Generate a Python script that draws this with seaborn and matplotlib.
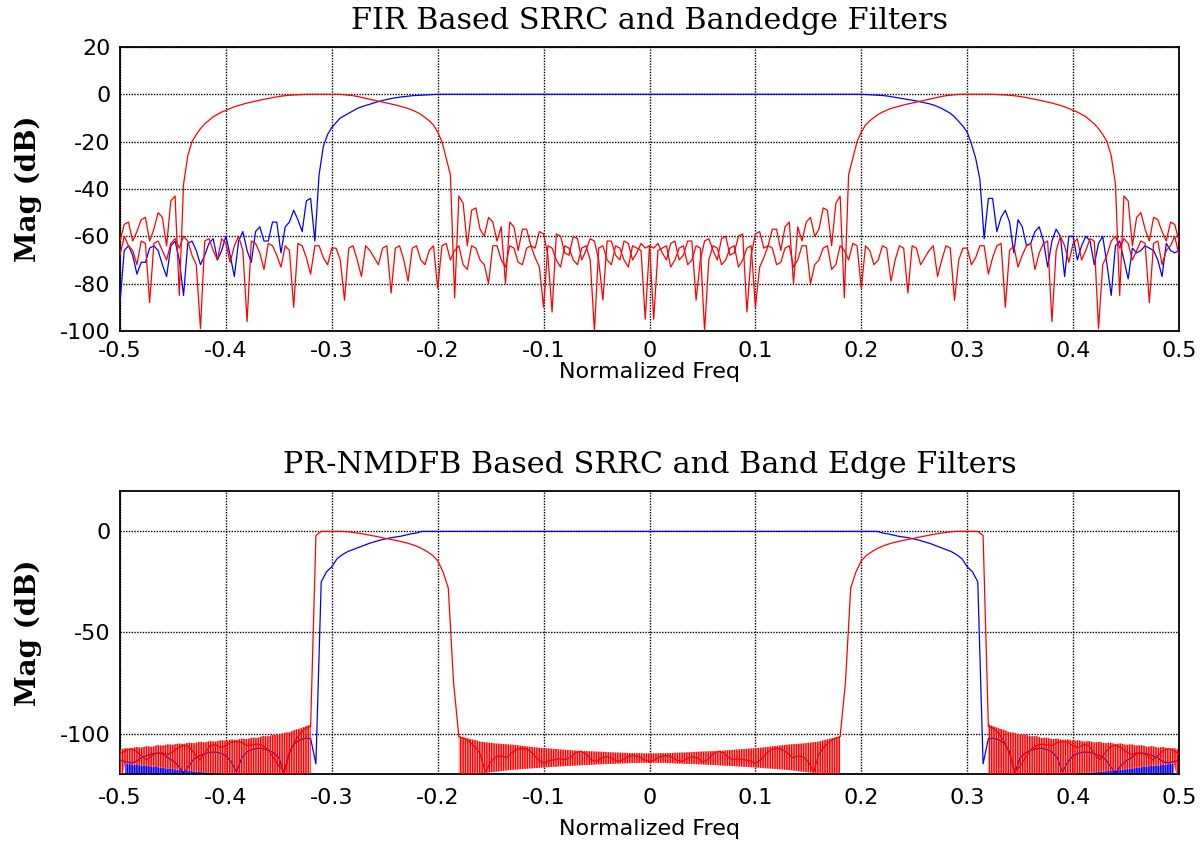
import numpy as np
import matplotlib
matplotlib.use("Agg")
import matplotlib.pyplot as plt
import seaborn as sns

nan = np.nan

# ============ top panel: FIR based SRRC and band-edge filters (freq step 0.004) ============
fir_freq = np.linspace(-0.5, 0.5, 251)

fir_srrc_left_db = [
    -88, -66, -64, -68, -76, -71, -71, -65, -64, -66,
    -72, -77, -64, -62, -70, -85, -63, -62, -66, -72,
    -68, -63, -61, -70, -66, -60, -68, -77, -62, -58,
    -66, -71, -58, -56, -62, -62, -54, -54, -67, -56,
    -54, -49, -53, -58, -45, -44, -62, -34, -22, -17,
    -14, -12, -10, -9, -8, -7, -6, -5.3, -4.7, -4.2,
    -3.6, -3.1, -2.6, -2.2, -1.8, -1.5, -1.2, -1.0, -0.8, -0.6,
    -0.5, -0.4, -0.3, -0.2, -0.1]
fir_srrc_pass_db = [0.0] * 101
fir_srrc_right_db = [
    -0.1, -0.2, -0.3, -0.4, -0.5, -0.7, -1.0, -1.3, -1.6, -1.9,
    -2.2, -2.5, -2.8, -3.2, -3.6, -4.0, -4.5, -5.2, -6.0, -7.0,
    -8.0, -9.5, -11.5, -13.5, -16, -21, -27, -36, -61, -44,
    -44, -58, -52, -49, -54, -67, -53, -56, -64, -63,
    -58, -56, -62, -73, -62, -57, -60, -77, -60, -60,
    -70, -64, -60, -62, -72, -63, -60, -72, -85, -64,
    -62, -70, -78, -65, -67, -66, -64, -65, -66, -70,
    -77, -63, -66, -67, -66]

fir_be_neg_db = [
    -62, -55, -54, -62, -58, -53, -52, -62, -57, -50,
    -52, -64, -45, -43, -85, -38, -26, -20, -17, -14.5,
    -12.5, -11, -9.5, -8.5, -7.5, -6.8, -6.0, -5.3, -4.7, -4.2,
    -3.7, -3.3, -2.9, -2.5, -2.1, -1.8, -1.4, -1.1, -0.8, -0.6,
    -0.4, -0.3, -0.2, -0.1, 0, 0, 0, 0, 0, 0,
    0, 0, 0, -0.2, -0.4, -0.6, -0.9, -1.3, -1.7, -2.1,
    -2.5, -2.9, -3.3, -3.7, -4.1, -4.5, -5.0, -5.5, -6.0, -6.7,
    -7.5, -8.5, -9.8, -11.2, -13, -16, -20, -27, -34, -86,
    -43, -46, -64, -49, -48, -57, -60, -52, -54, -62,
    -56, -80, -54, -56, -66, -57, -57, -64, -65, -58,
    -59, -68, -92, -59, -60, -67, -68, -60, -61, -70,
    -66, -61, -62, -70, -87, -62, -62, -68, -70, -62,
    -63, -70, -67, -63, -65, -64,
    -95, -66, -65, -64, -73, -70, -65, -64, -72, -70,
    -64, -65, -100, -70, -64, -65, -72, -70, -65, -64,
    -73, -70, -65, -64, -90, -73, -69, -64, -65, -72,
    -71, -65, -64, -73, -70, -64, -64, -80, -72, -70,
    -65, -64, -74, -72, -64, -66, -70, -63, -64, -82,
    -64, -66, -72, -70, -64, -65, -79, -70, -64, -65,
    -84, -64, -65, -72, -69, -66, -64, -77, -70, -64,
    -65, -87, -70, -65, -65, -72, -69, -64, -64, -76,
    -69, -64, -63, -90, -66, -64, -73, -68, -64, -63,
    -74, -67, -63, -62, -96, -66, -60, -64, -71, -63,
    -61, -70, -66, -61, -62, -99, -72, -68, -62, -60,
    -65, -61, -63, -70, -66, -62, -63, -88, -63, -62,
    -72, -66, -64, -60, -68]

fir_be_pos_db = [
    -68, -60, -64, -66, -72, -62, -63, -88, -63, -62,
    -66, -70, -63, -61, -65, -60, -62, -68, -72, -99,
    -62, -61, -66, -70, -61, -63, -71, -64, -60, -66,
    -96, -62, -63, -67, -74, -63, -64, -68, -73, -64,
    -66, -90, -63, -64, -69, -76, -64, -64, -69, -72,
    -65, -65, -70, -87, -65, -64, -70, -77, -64, -66,
    -69, -72, -65, -64, -84, -65, -64, -70, -79, -65,
    -64, -70, -72, -66, -64, -82, -64, -63, -70, -66,
    -64, -72, -74, -64, -65, -70, -72, -80, -64, -64,
    -70, -73, -64, -65, -71, -72, -65, -64, -69, -73,
    -90, -64, -65, -70, -73, -64, -65, -70, -72, -65,
    -64, -70, -100, -65, -64, -70, -72, -64, -65, -70,
    -73, -64, -65, -66, -95, -64,
    -65, -63, -67, -70, -63, -62, -70, -68, -62, -62,
    -87, -70, -62, -61, -66, -70, -61, -60, -68, -67,
    -60, -59, -92, -68, -59, -58, -65, -64, -57, -57,
    -66, -56, -54, -80, -56, -62, -54, -52, -60, -57,
    -48, -49, -64, -46, -43, -86, -34, -27, -20, -16,
    -13, -11.2, -9.8, -8.5, -7.5, -6.7, -6.0, -5.5, -5.0, -4.5,
    -4.1, -3.7, -3.3, -2.9, -2.5, -2.1, -1.7, -1.3, -0.9, -0.6,
    -0.4, -0.2, 0, 0, 0, 0, 0, 0, 0, 0,
    0, -0.1, -0.2, -0.3, -0.4, -0.6, -0.8, -1.1, -1.4, -1.8,
    -2.1, -2.5, -2.9, -3.3, -3.7, -4.2, -4.7, -5.3, -6.0, -6.8,
    -7.5, -8.5, -9.5, -11, -12.5, -14.5, -17, -20, -26, -38,
    -85, -43, -45, -64, -52, -50, -57, -62, -52, -53,
    -58, -62, -54, -55, -62]

# ============ bottom panel: PR-NMDFB based filters (freq step 0.005) ============
pr_freq = np.linspace(-0.5, 0.5, 201)
pr_srrc_stop_left_db = [
    -113, -114, -114.5, -114, -112, -111, -110, -109.7, -110, -112,
    -113.5, -116, -119.5, -116, -112.5, -111, -110, -109.3, -109.2, -109.7,
    -111, -114, -119, -112, -109, -107.8, -107.3, -107.5, -108.3, -109.5,
    -112, -119.5, -109, -104.8, -103.2, -102.3, -102.5]
pr_srrc_edge_left_db = [
    -115, -25, -20, -17.5, -13.5, -11.5, -10, -9, -8, -7, -6,
    -5.2, -4.4, -3.8, -3.2, -2.8, -2.4, -1.8, -1.2, -0.8]
pr_srrc_pass_db = [0.0] * 87
pr_srrc_edge_right_db = [
    -0.8, -1.2, -1.8, -2.4, -2.8, -3.2, -3.8, -4.4, -5.2, -6,
    -7, -8, -9, -10, -11.5, -13.5, -17.5, -20, -25, -115]
pr_srrc_stop_right_db = [
    -102.5, -102.3, -103.2, -104.8, -109, -119.5, -112, -109.5, -108.3, -107.5,
    -107.3, -107.8, -109, -112, -119, -114, -111, -109.7, -109.2, -109.3,
    -110, -111, -112.5, -116, -119.5, -116, -113.5, -112, -110, -109.7,
    -110, -111, -112, -114, -114.5, -114, -113]

pr_freq_left = np.linspace(-0.5, -0.32, 37)
pr_freq_mid = np.linspace(-0.18, 0.18, 73)
pr_freq_right = np.linspace(0.32, 0.5, 37)
pr_freq_lobe_neg = np.linspace(-0.32, -0.18, 29)
pr_freq_lobe_pos = np.linspace(0.18, 0.32, 29)

pr_be_lobe_neg_db = [
    -96.5, -2, 0, 0, 0, 0, 0, -0.2, -0.5, -0.9,
    -1.3, -1.8, -2.3, -2.8, -3.4, -3.9, -4.4, -5.0, -5.6, -6.4,
    -7.3, -8.5, -10, -11.8, -14.5, -20, -28, -75, -101.5]
pr_be_lobe_pos_db = [
    -101.5, -75, -28, -20, -14.5, -11.8, -10, -8.5, -7.3, -6.4,
    -5.6, -5.0, -4.4, -3.9, -3.4, -2.8, -2.3, -1.8, -1.3, -0.9,
    -0.5, -0.2, 0, 0, 0, 0, 0, -2, -96.5]

pr_be_trace_left_db = [
    -110, -108.5, -107.5, -108.5, -111, -113, -111, -109.7, -109.5, -110.5,
    -109, -107, -105.8, -106.5, -109.7, -113, -110, -106, -105.5, -107,
    -106, -104.2, -104, -104.5, -106, -105.6, -105.2, -106, -108, -112,
    -116, -119, -110, -104, -100, -97.5, -96.5]
pr_be_trace_right_db = [
    -96.5, -97.5, -100, -104, -110, -119, -116, -112, -108, -106,
    -105.2, -105.6, -106, -104.5, -104, -104.2, -106, -107, -105.5, -106,
    -110, -113, -109.7, -106.5, -105.8, -107, -109, -110.5, -109.5, -109.7,
    -111, -113, -111, -108.5, -107.5, -108.5, -110]
pr_be_trace_mid_db = [
    -101.5, -102.5, -104, -106.5, -110, -119, -114, -111.5, -111, -112,
    -109.5, -107.8, -107.3, -108, -110, -113, -114.7, -113.5, -113, -112.5,
    -113, -112, -109.5, -108.8, -110, -113, -113.9, -112, -111.4, -112.5,
    -113.9, -113, -111.4, -110.8, -111.5, -113, -113.9,
    -113, -111.5, -110.8, -111.4, -113, -113.9, -112.5, -111.4, -112, -113.9,
    -113, -110, -108.8, -109.5, -112, -113, -112.5, -113, -113.5, -114.7,
    -113, -110, -108, -107.3, -107.8, -109.5, -112, -111, -111.5, -114,
    -119, -110, -106.5, -104, -102.5, -101.5]

pr_be_env_left_db = [
    -108, -107.2, -107.5, -106.6, -107, -106.2, -106.6, -105.7, -106, -105.3,
    -105.6, -104.9, -105.2, -104.5, -104.8, -104.1, -104.4, -103.7, -104, -103.3,
    -103.6, -102.9, -103.2, -102.5, -102.8, -102, -102.2, -101.2, -101.4, -100.5,
    -100.6, -99.6, -99.4, -98.2, -97.5, -96.5, -95.5]
pr_be_env_right_db = [
    -95.5, -96.5, -97.5, -98.2, -99.4, -99.6, -100.6, -100.5, -101.4, -101.2,
    -102.2, -102, -102.8, -102.5, -103.2, -102.9, -103.6, -103.3, -104, -103.7,
    -104.4, -104.1, -104.8, -104.5, -105.2, -104.9, -105.6, -105.3, -106, -105.7,
    -106.6, -106.2, -107, -106.6, -107.5, -107.2, -108]
pr_be_env_mid_db = [
    -101.5, -102.0, -102.6, -103.2, -104.0, -104.3, -104.6, -104.9, -105.1, -105.3,
    -105.5, -105.8, -106.1, -106.4, -106.7, -107.0, -107.2, -107.4, -107.6, -107.8,
    -108.0, -108.2, -108.4, -108.6, -108.7, -108.8, -108.9, -109.0, -109.2, -109.3,
    -109.4, -109.5, -109.6, -109.7, -109.7, -109.8, -109.8,
    -109.8, -109.7, -109.7, -109.6, -109.5, -109.4, -109.3, -109.2, -109.0, -108.9,
    -108.8, -108.7, -108.6, -108.4, -108.2, -108.0, -107.8, -107.6, -107.4, -107.2,
    -107.0, -106.7, -106.4, -106.1, -105.8, -105.5, -105.3, -105.1, -104.9, -104.6,
    -104.3, -104.0, -103.2, -102.6, -102.0, -101.5]
pr_be_low_mid_db = [
    -125, -125, -125, -125, -120, -119.5, -119.2, -118.9, -118.6, -118.3,
    -118.0, -117.8, -117.6, -117.4, -117.2, -117.0, -116.8, -116.6, -116.5, -116.3,
    -116.2, -116.0, -115.9, -115.7, -115.6, -115.5, -115.3, -115.2, -115.1, -115.0,
    -114.9, -114.8, -114.7, -114.6, -114.5, -114.5, -114.5,
    -114.5, -114.5, -114.6, -114.7, -114.8, -114.9, -115.0, -115.1, -115.2, -115.3,
    -115.5, -115.6, -115.7, -115.9, -116.0, -116.2, -116.3, -116.5, -116.6, -116.8,
    -117.0, -117.2, -117.4, -117.6, -117.8, -118.0, -118.3, -118.6, -118.9, -119.2,
    -119.5, -120, -125, -125, -125, -125]

pr_srrc_floor_left_db = [
    nan, -114.8, -115.2, -115.5, -115.8, -116, -116.3, -116.6, -117, -117.3,
    -117.6, -118, -118.3, -118.5, -118.7, -119, -119.2, -119.4, -119.6, -119.8,
    -120.2, -120.5, -121, nan, nan, nan, nan, nan, nan, nan,
    nan, nan, nan, nan, nan, nan, nan]
pr_srrc_floor_right_db = [
    nan, nan, nan, nan, nan, nan, nan, nan, nan, nan,
    nan, nan, nan, nan, -121, -120.5, -120.2, -119.8, -119.6, -119.4,
    -119.2, -119, -118.7, -118.5, -118.3, -118, -117.6, -117.3, -117, -116.6,
    -116.3, -116, -115.8, -115.5, -115.2, -114.8, nan]

xtick_vals = [-0.5, -0.4, -0.3, -0.2, -0.1, 0, 0.1, 0.2, 0.3, 0.4, 0.5]
xtick_labels = ["-0.5", "-0.4", "-0.3", "-0.2", "-0.1", "0", "0.1", "0.2", "0.3", "0.4", "0.5"]
top_yticks = [-100, -80, -60, -40, -20, 0, 20]
bottom_yticks = [-100, -50, 0]
titles = ["FIR Based SRRC and Bandedge Filters", "PR-NMDFB Based SRRC and Band Edge Filters"]

RED = "#ff0000"
BLUE = "#0000ff"
RED_SHADE = "#ff9c9c"
BLUE_SHADE = "#8c8cff"

sns.set_style("white")
plt.rcParams["axes.unicode_minus"] = False
plt.rcParams["hatch.linewidth"] = 1.1
plt.rcParams["font.family"] = ["DejaVu Sans"]
plt.rcParams["text.color"] = "black"
plt.rcParams["axes.labelcolor"] = "black"
plt.rcParams["axes.titlecolor"] = "black"

fig = plt.figure(figsize=(12, 8.43), dpi=100)
ax1 = fig.add_axes([0.1, 0.6074, 0.8825, 0.3369])
ax2 = fig.add_axes([0.1, 0.0819, 0.8825, 0.3357])


def line(ax, x, y, color, lw=0.9, z=3):
    sns.lineplot(x=np.asarray(x, float), y=np.asarray(y, float), ax=ax, color=color,
                 linewidth=lw, estimator=None, sort=False, legend=False, zorder=z)


# ---- top
srrc_top = np.concatenate([fir_srrc_left_db, fir_srrc_pass_db, fir_srrc_right_db])
line(ax1, fir_freq, srrc_top, BLUE)
line(ax1, fir_freq, fir_be_neg_db, RED)
line(ax1, fir_freq, fir_be_pos_db, RED)

# ---- bottom
srrc_bot = np.concatenate([pr_srrc_stop_left_db, pr_srrc_edge_left_db, pr_srrc_pass_db,
                           pr_srrc_edge_right_db, pr_srrc_stop_right_db])
hatch = "|" * 7
for fx, floor in [(pr_freq_left, pr_srrc_floor_left_db), (pr_freq_right, pr_srrc_floor_right_db)]:
    fl = np.asarray(floor, float)
    ax2.fill_between(fx, -125, fl, facecolor=BLUE_SHADE, edgecolor=BLUE, hatch=hatch,
                     linewidth=0, zorder=2)
line(ax2, pr_freq, srrc_bot, BLUE, z=2.5)

for fx, env, low in [
    (pr_freq_left, pr_be_env_left_db,
     np.where(np.isnan(np.asarray(pr_srrc_floor_left_db, float)), -125, pr_srrc_floor_left_db)),
    (pr_freq_mid, pr_be_env_mid_db, pr_be_low_mid_db),
    (pr_freq_right, pr_be_env_right_db,
     np.where(np.isnan(np.asarray(pr_srrc_floor_right_db, float)), -125, pr_srrc_floor_right_db)),
]:
    ax2.fill_between(fx, low, env, facecolor="none", edgecolor=RED, hatch=hatch,
                     linewidth=0, zorder=2.7)
    ax2.fill_between(fx, low, env, facecolor=RED_SHADE, edgecolor="none", alpha=0.55,
                     linewidth=0, zorder=2.2)

line(ax2, pr_freq_left, pr_be_trace_left_db, RED, lw=0.9)
line(ax2, pr_freq_mid, pr_be_trace_mid_db, RED, lw=0.9)
line(ax2, pr_freq_right, pr_be_trace_right_db, RED, lw=0.9)
line(ax2, pr_freq_lobe_neg, pr_be_lobe_neg_db, RED)
line(ax2, pr_freq_lobe_pos, pr_be_lobe_pos_db, RED)

for ax, yt, ylim, title, tpad, lpad in [(ax1, top_yticks, (-100, 20), titles[0], 7, 1),
                                         (ax2, bottom_yticks, (-120, 20), titles[1], 10, 8)]:
    ax.set_xlim(-0.5, 0.5)
    ax.set_ylim(*ylim)
    ax.set_xticks(xtick_vals)
    ax.set_xticklabels(xtick_labels)
    ax.set_yticks(yt)
    ax.set_yticklabels([str(v) for v in yt])
    ax.set_axisbelow(True)
    ax.grid(True, color="black", linestyle=(0, (1, 1)), linewidth=1.0)
    ax.tick_params(axis="both", length=0, labelsize=16, colors="black")
    ax.tick_params(axis="x", pad=tpad)
    ax.tick_params(axis="y", pad=7)
    for sp in ax.spines.values():
        sp.set_visible(True)
        sp.set_color("black")
        sp.set_linewidth(1.3)
    ax.set_title(title, fontfamily="DejaVu Serif", fontsize=21.8, pad=13, color="black")
    ax.set_xlabel("Normalized Freq", fontsize=16, labelpad=lpad, color="black")
    ax.set_ylabel("Mag (dB)", fontfamily="DejaVu Serif", fontweight="bold", fontsize=20,
                  color="black")
    ax.yaxis.set_label_coords(-0.074, 0.5)

fig.savefig("out.png", dpi=100)
